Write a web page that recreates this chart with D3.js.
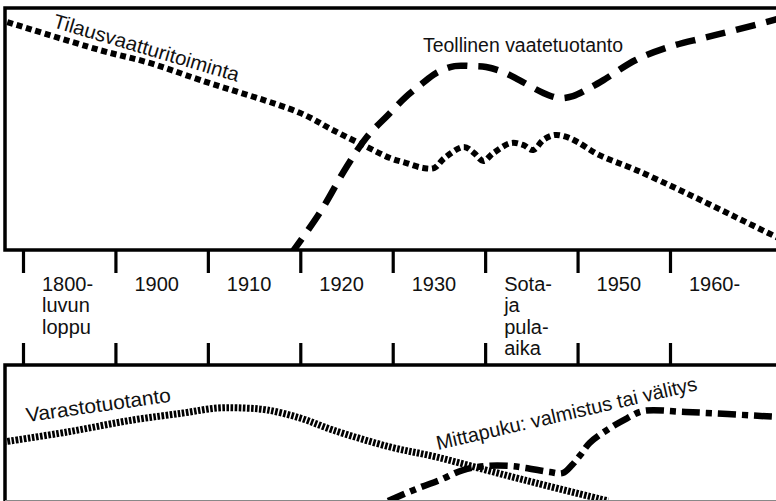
<!DOCTYPE html>
<html>
<head>
<meta charset="utf-8">
<script src="https://cdn.jsdelivr.net/npm/d3@7"></script>
<style>
body { margin: 0; background: #fff; }
svg { display: block; font-family: "Liberation Sans", Arial, sans-serif; }
</style>
</head>
<body>
<script>
// periods on the timeline (x = position in period units, 0 = start of 1800-luvun loppu)
const periodLabels = [["1800-", "luvun", "loppu"], ["1900"], ["1910"], ["1920"], ["1930"],
    ["Sota-", "ja", "pula-", "aika"], ["1950"], ["1960-"]];

// upper panel, relative level 0..100
const tilausX = [-0.17, 0.83, 1.37, 1.92, 3.0, 3.35, 3.72, 3.97, 4.14, 4.33, 4.45, 4.56, 4.77, 4.88, 4.98,
    5.09, 5.28, 5.41, 5.52, 5.63, 5.75, 5.88, 6.0, 6.23, 6.63, 7.17, 7.71, 8.17];
const tilausY = [94.2, 82.6, 77.3, 70.2, 56.6, 49.6, 42.6, 38.0, 36.0, 33.9, 33.9, 38.0, 42.6, 40.1, 36.8,
    40.1, 44.2, 43.4, 41.3, 45.5, 47.5, 46.7, 44.6, 39.3, 33.1, 23.6, 13.6, 5.0];

const teollX = [2.89, 3.21, 3.5, 3.72, 3.95, 4.14, 4.3, 4.47, 4.67, 4.85, 5.01, 5.19, 5.37, 5.63, 5.8,
    5.95, 6.11, 6.28, 6.63, 6.99, 7.36, 7.71, 8.17];
const teollY = [-2.1, 15.3, 34.3, 46.7, 55.8, 63.2, 68.2, 73.1, 76.0, 76.0, 75.6, 73.6, 70.2, 64.9, 62.8,
    63.6, 66.5, 70.2, 78.5, 83.9, 87.6, 90.9, 95.5];

// lower panel, relative level 0..100
const varastoX = [-0.21, 0.48, 1.19, 1.73, 2.1, 2.4, 2.64, 3.0, 3.35, 3.97, 4.47, 5.01, 5.55, 6.33];
const varastoY = [43.0, 50.4, 59.3, 64.4, 68.1, 68.1, 66.7, 60.7, 51.9, 39.3, 31.9, 22.2, 12.6, -0.7];

const mittaX = [3.95, 4.28, 4.51, 4.76, 5.01, 5.27, 5.44, 5.7, 5.84, 5.94, 6.03, 6.13, 6.32, 6.54, 6.71, 7.17, 8.17];
const mittaY = [-0.7, 8.9, 14.8, 22.2, 25.2, 25.2, 23.7, 20.7, 20.0, 25.9, 33.3, 42.2, 51.9, 60.7, 65.9, 65.2, 61.5];

const seriesNames = ["Tilausvaatturitoiminta", "Teollinen vaatetuotanto", "Varastotuotanto",
    "Mittapuku: valmistus tai välitys"];

const width = 776, height = 501;
const left = 5, topY = 8, topBottom = 250, botTop = 365, botBottom = 500;

const svg = d3.select("body").append("svg")
    .attr("width", width)
    .attr("height", height);

const x = d3.scaleLinear().domain([0, 7]).range([23, 670]);
const yTop = d3.scaleLinear().domain([0, 100]).range([topBottom, topY]);
const yBot = d3.scaleLinear().domain([0, 100]).range([botBottom, botTop]);

const defs = svg.append("defs");
defs.append("clipPath").attr("id", "clipTop").append("rect")
    .attr("x", left).attr("y", topY).attr("width", width - left).attr("height", topBottom - topY);
defs.append("clipPath").attr("id", "clipBot").append("rect")
    .attr("x", left).attr("y", botTop).attr("width", width - left).attr("height", botBottom - botTop);

function drawSeries(xs, ys, yScale, clip, dash, sw) {
    const line = d3.line()
        .x((d, i) => x(xs[i]))
        .y(d => yScale(d))
        .curve(d3.curveCatmullRom.alpha(0.5));
    svg.append("path")
        .datum(ys)
        .attr("clip-path", `url(#${clip})`)
        .attr("d", line)
        .style("fill", "none")
        .style("stroke", "#000")
        .style("stroke-width", sw)
        .style("stroke-dasharray", dash);
}

drawSeries(tilausX, tilausY, yTop, "clipTop", "6 3.8", 6);
drawSeries(teollX, teollY, yTop, "clipTop", "20 11", 6.5);
drawSeries(varastoX, varastoY, yBot, "clipBot", "2.6 1.5", 7);
drawSeries(mittaX, mittaY, yBot, "clipBot", "18 6 6 6", 6.5);

// panel frames
const frame = svg.append("g").style("stroke", "#000").style("stroke-width", 3.5).style("fill", "none");
frame.append("path").attr("d", `M${width},${topY} H${left} V${topBottom} H${width}`);
frame.append("path").attr("d", `M${width},${botTop} H${left} V${height}`);
svg.append("line")
    .attr("x1", left).attr("x2", width).attr("y1", botBottom + 0.5).attr("y2", botBottom + 0.5)
    .style("stroke", "#888").style("stroke-width", 1);

// timeline ticks
const ticks = d3.range(periodLabels.length);
const upper = svg.append("g").attr("transform", `translate(0,${topBottom})`)
    .call(d3.axisBottom(x).tickValues(ticks).tickSize(23).tickSizeOuter(0).tickFormat(""));
const lower = svg.append("g").attr("transform", `translate(0,${botTop})`)
    .call(d3.axisTop(x).tickValues(ticks).tickSize(22).tickSizeOuter(0).tickFormat(""));
[upper, lower].forEach(g => {
    g.select(".domain").remove();
    g.selectAll(".tick line").style("stroke", "#000").style("stroke-width", 3.2);
});

// period labels
const labels = svg.append("g")
    .style("font-size", "20px")
    .style("fill", "#111");
periodLabels.forEach((lines, i) => {
    const t = labels.append("text")
        .attr("x", x(i) + 19)
        .attr("y", 291);
    lines.forEach((s, j) => {
        t.append("tspan")
            .attr("x", x(i) + 19)
            .attr("dy", j === 0 ? 0 : 21.3)
            .text(s);
    });
});

// series labels
const seriesPlacement = [
    { x: 52, y: 27, angle: 16.5, len: 193 },
    { x: 423, y: 52, angle: 0, len: 200 },
    { x: 27, y: 422, angle: -8, len: 146 },
    { x: 438, y: 450, angle: -13, len: 267 }
];
seriesNames.forEach((name, i) => {
    const p = seriesPlacement[i];
    svg.append("text")
        .attr("transform", `translate(${p.x},${p.y}) rotate(${p.angle})`)
        .attr("textLength", p.len)
        .attr("lengthAdjust", "spacingAndGlyphs")
        .style("font-size", "20px")
        .style("fill", "#111")
        .text(name);
});
</script>
</body>
</html>
